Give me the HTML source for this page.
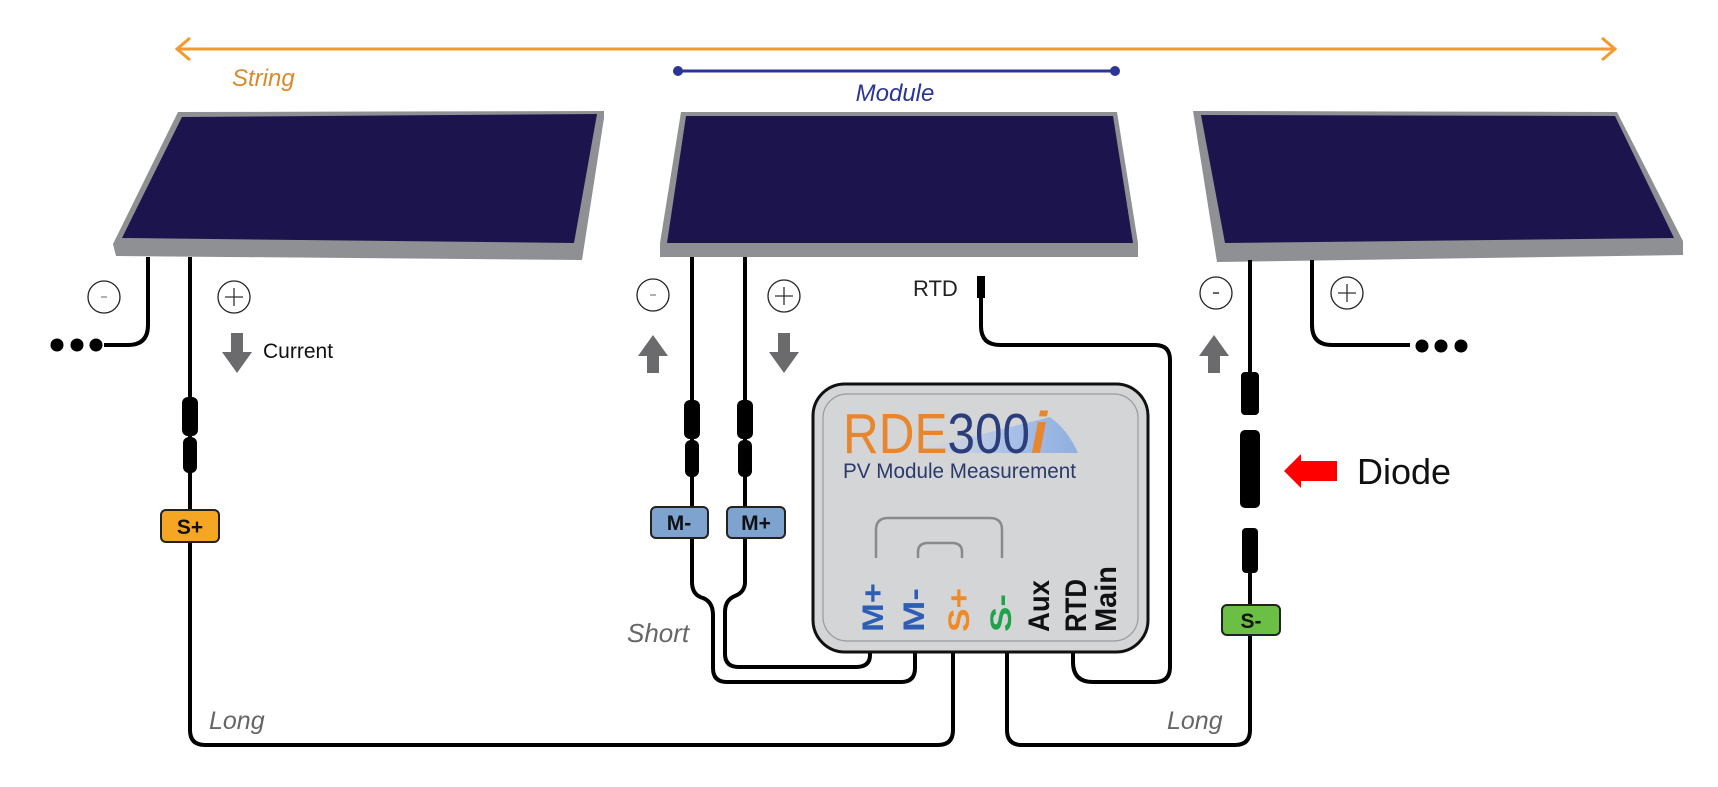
<!DOCTYPE html>
<html><head><meta charset="utf-8"><style>
html,body{margin:0;padding:0;background:#fff;}
svg{display:block;}
text{font-family:"Liberation Sans",sans-serif;}
</style></head><body>
<svg width="1718" height="787" viewBox="0 0 1718 787" xmlns="http://www.w3.org/2000/svg">
<defs>
<linearGradient id="sw" x1="0" y1="0" x2="1" y2="0">
<stop offset="0" stop-color="#c9d6ee" stop-opacity="0"/>
<stop offset="0.6" stop-color="#a9c0e6"/>
<stop offset="1" stop-color="#8fb0e0"/>
</linearGradient>
</defs>
<!-- top arrows -->
<line x1="178" y1="49" x2="1614" y2="49" stroke="#f39a2e" stroke-width="3"/>
<polyline points="190,38 177,49 190,60" fill="none" stroke="#f39a2e" stroke-width="3"/>
<polyline points="1602,38 1615,49 1602,60" fill="none" stroke="#f39a2e" stroke-width="3"/>
<text x="232" y="86" font-size="24" font-style="italic" fill="#d98a2b">String</text>
<line x1="678" y1="71" x2="1115" y2="71" stroke="#2b3595" stroke-width="3"/>
<circle cx="678" cy="71" r="5" fill="#2b3595"/><circle cx="1115" cy="71" r="5" fill="#2b3595"/>
<text x="895" y="101" font-size="24" font-style="italic" fill="#2b3595" text-anchor="middle">Module</text>

<!-- panels -->
<polygon points="178,112 604,111 604,118 582,260 116,256 113,244" fill="#8e9094"/>
<polygon points="182,117 597,114 574,243 122,238" fill="#1c154d"/>
<polygon points="681,112 1117,112 1138,243 1138,257 660,257 660,243" fill="#8e9094"/>
<polygon points="686,116 1113,116 1133,243 667,243" fill="#1c154d"/>
<polygon points="1193,111 1617,112 1683,241 1683,255 1217,262" fill="#8e9094"/>
<polygon points="1201,115 1615,116 1674,238 1225,243" fill="#1c154d"/>

<!-- polarity circles -->
<g fill="#fff" stroke="#222" stroke-width="1.3">
<circle cx="104" cy="297" r="16"/><circle cx="234" cy="297" r="16"/>
<circle cx="653" cy="295" r="16"/><circle cx="784" cy="296" r="16"/>
<circle cx="1216" cy="293" r="16"/><circle cx="1347" cy="293" r="16"/>
</g>
<g stroke="#999" stroke-width="1.5">
<line x1="101" y1="297" x2="107" y2="297"/><line x1="650" y1="295" x2="656" y2="295"/>
</g>
<line x1="1213" y1="293" x2="1219" y2="293" stroke="#333" stroke-width="1.5"/>
<g stroke="#333" stroke-width="1.3">
<line x1="225" y1="297" x2="243" y2="297"/><line x1="234" y1="288" x2="234" y2="306"/>
<line x1="775" y1="296" x2="793" y2="296"/><line x1="784" y1="287" x2="784" y2="305"/>
<line x1="1338" y1="293" x2="1356" y2="293"/><line x1="1347" y1="284" x2="1347" y2="302"/>
</g>

<!-- gray current arrows -->
<g fill="#6b6b6d">
<rect x="231" y="333" width="12" height="22"/><polygon points="222,352 252,352 237,373"/>
<rect x="778" y="333" width="12" height="22"/><polygon points="769,352 799,352 784,373"/>
<rect x="647" y="351" width="12" height="22"/><polygon points="638,356 668,356 653,335"/>
<rect x="1208" y="351" width="12" height="22"/><polygon points="1199,356 1229,356 1214,335"/>
</g>
<text x="263" y="358" font-size="21" fill="#111">Current</text>

<!-- wires -->
<g fill="none" stroke="#000" stroke-width="4" stroke-linejoin="round">
<path d="M148,257 V325 Q148,345 128,345 H104"/>
<path d="M1312,260 V325 Q1312,345 1332,345 H1410"/>
<path d="M190,257 V730 Q190,745 205,745 H938 Q953,745 953,730 V652"/>
<path d="M1250,260 V380"/>
<path d="M1250,565 V730 Q1250,745 1235,745 H1022 Q1007,745 1007,730 V652"/>
<path d="M692,257 V582 Q692,595 703,598 Q713,602 713,615 V668 Q713,682 727,682 H901 Q915,682 915,668 V652"/>
<path d="M745,257 V582 Q745,592 735,596 Q725,600 725,612 V654 Q725,667 739,667 H856 Q870,667 870,655 V652"/>
<path d="M1073,652 V662 Q1073,682 1093,682 H1155 Q1170,682 1170,667 V360 Q1170,345 1155,345 H1000 Q981,345 981,326 V290"/>
</g>
<rect x="977" y="276" width="8" height="22" fill="#000"/>
<g fill="#000">
<circle cx="57" cy="345" r="6.5"/><circle cx="77" cy="345" r="6.5"/><circle cx="96" cy="345" r="6.5"/>
<circle cx="1422" cy="346" r="6.5"/><circle cx="1441" cy="346" r="6.5"/><circle cx="1461" cy="346" r="6.5"/>
</g>

<!-- MC4 connectors -->
<g fill="#000">
<rect x="182" y="397" width="16" height="39" rx="6"/><rect x="183" y="437" width="14" height="36" rx="6"/>
<rect x="684" y="400" width="16" height="39" rx="6"/><rect x="685" y="440" width="14" height="37" rx="6"/>
<rect x="737" y="400" width="16" height="39" rx="6"/><rect x="738" y="440" width="14" height="37" rx="6"/>
<rect x="1241" y="372" width="18" height="43" rx="4"/>
<rect x="1240" y="430" width="20" height="78" rx="5"/>
<rect x="1242" y="528" width="16" height="45" rx="4"/>
</g>

<!-- tag labels -->
<g stroke="#222" stroke-width="2">
<rect x="161" y="510" width="58" height="32" rx="5" fill="#f5a623"/>
<rect x="651" y="507" width="57" height="31" rx="5" fill="#7ea3cf"/>
<rect x="727" y="507" width="58" height="31" rx="5" fill="#7ea3cf"/>
<rect x="1222" y="605" width="58" height="30" rx="5" fill="#6cbf45"/>
</g>
<g font-size="21" font-weight="bold" fill="#111" text-anchor="middle">
<text x="190" y="534">S+</text><text x="679" y="530">M-</text><text x="756" y="530">M+</text><text x="1251" y="628">S-</text>
</g>

<!-- diode arrow -->
<polygon points="1284,471 1301,454 1301,461 1337,461 1337,481 1301,481 1301,488" fill="#f00"/>
<text x="1357" y="484" font-size="36" fill="#111">Diode</text>

<text x="627" y="642" font-size="26" font-style="italic" fill="#666">Short</text>
<text x="209" y="729" font-size="25" font-style="italic" fill="#666">Long</text>
<text x="1167" y="729" font-size="25" font-style="italic" fill="#666">Long</text>
<text x="913" y="296" font-size="22" fill="#222">RTD</text>

<!-- RDE box -->
<rect x="813" y="384" width="335" height="268" rx="32" fill="#d4d5d7" stroke="#111" stroke-width="3"/>
<rect x="823" y="394" width="315" height="247" rx="24" fill="none" stroke="#9a9a9a" stroke-width="1.2"/>
<path d="M905,453 Q1000,430 1050,417 Q1068,430 1078,453 Z" fill="url(#sw)"/>
<text x="843" y="453" font-size="57" textLength="187" lengthAdjust="spacingAndGlyphs"><tspan fill="#e8862e">RDE</tspan><tspan fill="#2b3d7a">300</tspan></text>
<text x="1031" y="453" font-size="58" font-family="Liberation Serif,serif" font-weight="bold" font-style="italic" fill="#e8862e">i</text>
<text x="843" y="478" font-size="21" fill="#2b3a6b" textLength="233" lengthAdjust="spacingAndGlyphs">PV Module Measurement</text>
<path d="M876,558 V530 Q876,518 888,518 H990 Q1002,518 1002,530 V558" fill="none" stroke="#8a8a8a" stroke-width="2.5"/>
<path d="M918,558 V552 Q918,543 928,543 H952 Q962,543 962,552 V558" fill="none" stroke="#8a8a8a" stroke-width="2.5"/>
<g font-size="30" font-weight="bold">
<text transform="translate(883,632) rotate(-90)" fill="#2e5db5" textLength="49" lengthAdjust="spacingAndGlyphs">M+</text>
<text transform="translate(924,632) rotate(-90)" fill="#2e5db5" textLength="44" lengthAdjust="spacingAndGlyphs">M-</text>
<text transform="translate(969,632) rotate(-90)" fill="#f08a24" textLength="44" lengthAdjust="spacingAndGlyphs">S+</text>
<text transform="translate(1011,632) rotate(-90)" fill="#1fa34a" textLength="38" lengthAdjust="spacingAndGlyphs">S-</text>
<text transform="translate(1049,632) rotate(-90)" fill="#111" textLength="52" lengthAdjust="spacingAndGlyphs">Aux</text>
<text transform="translate(1086,632) rotate(-90)" fill="#111" textLength="53" lengthAdjust="spacingAndGlyphs">RTD</text>
<text transform="translate(1116,632) rotate(-90)" fill="#111" textLength="66" lengthAdjust="spacingAndGlyphs">Main</text>
</g>
</svg>
</body></html>
